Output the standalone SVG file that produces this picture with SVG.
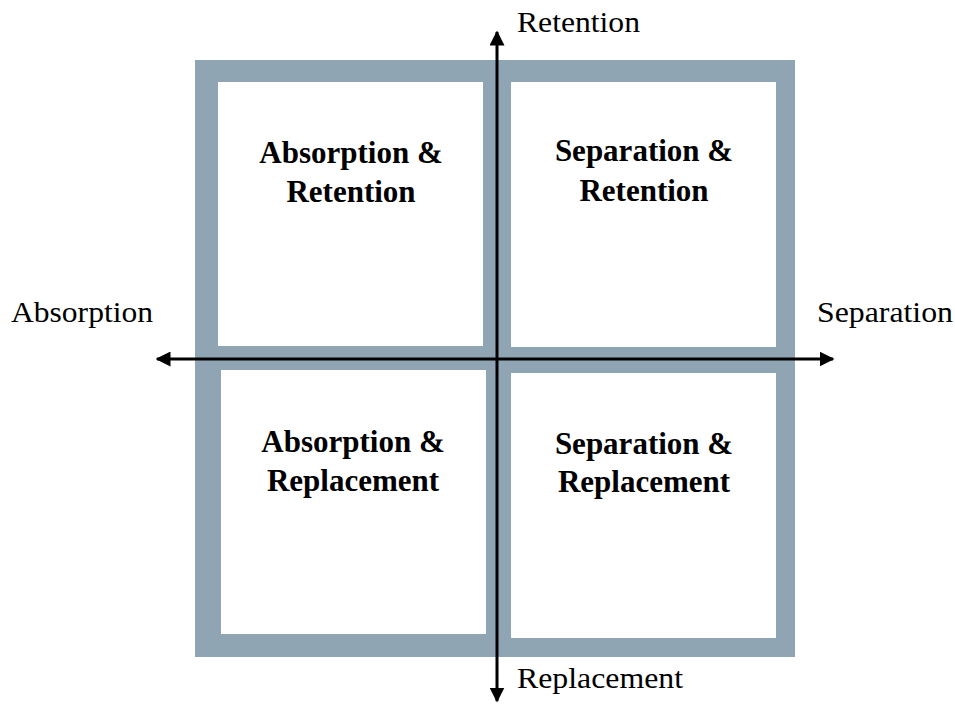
<svg xmlns="http://www.w3.org/2000/svg" width="955" height="706" viewBox="0 0 955 706">
  <style>
    .quad { fill: #ffffff; }
    .frame { fill: #8fa5b4; }
    .axis { stroke: #000000; stroke-width: 3; fill: none; }
    .lbl { font-family: "Liberation Serif", "Times New Roman", serif; font-size: 29px; fill: #000000; }
    .title { font-family: "Liberation Serif", "Times New Roman", serif; font-size: 31px; font-weight: bold; fill: #000000; text-anchor: middle; }
  </style>
  <defs>
    <marker id="arrow" viewBox="0 0 10 10" refX="9" refY="5" markerWidth="5" markerHeight="5" markerUnits="strokeWidth" orient="auto-start-reverse">
      <path d="M0,0 L10,5 L0,10 z" fill="#000000"/>
    </marker>
  </defs>
  <rect width="955" height="706" fill="#ffffff"/>
  <rect id="frame" class="frame" x="195" y="60" width="600" height="597"/>

  <g id="q-absorption-retention">
    <rect class="quad" x="218" y="82" width="265" height="264"/>
    <text class="title" x="351" y="163">Absorption &amp;</text>
    <text class="title" x="351" y="202">Retention</text>
  </g>
  <g id="q-separation-retention">
    <rect class="quad" x="511" y="82" width="265" height="265"/>
    <text class="title" x="644" y="161">Separation &amp;</text>
    <text class="title" x="644" y="201">Retention</text>
  </g>
  <g id="q-absorption-replacement">
    <rect class="quad" x="221" y="370" width="265" height="264"/>
    <text class="title" x="353" y="452">Absorption &amp;</text>
    <text class="title" x="353" y="491">Replacement</text>
  </g>
  <g id="q-separation-replacement">
    <rect class="quad" x="511" y="373" width="265" height="265"/>
    <text class="title" x="644" y="454">Separation &amp;</text>
    <text class="title" x="644" y="492">Replacement</text>
  </g>

  <g id="connectors">
    <line class="axis" x1="497" y1="701" x2="497" y2="32" marker-end="url(#arrow)" marker-start="url(#arrow)"/>
    <line class="axis" x1="157" y1="359" x2="833" y2="359" marker-end="url(#arrow)" marker-start="url(#arrow)"/>
  </g>

  <g id="axis-labels">
    <text class="lbl" x="517" y="32" textLength="123" lengthAdjust="spacingAndGlyphs">Retention</text>
    <text class="lbl" x="11" y="322" textLength="142" lengthAdjust="spacingAndGlyphs">Absorption</text>
    <text class="lbl" x="817" y="322" textLength="136" lengthAdjust="spacingAndGlyphs">Separation</text>
    <text class="lbl" x="517" y="688" textLength="166" lengthAdjust="spacingAndGlyphs">Replacement</text>
  </g>
</svg>
